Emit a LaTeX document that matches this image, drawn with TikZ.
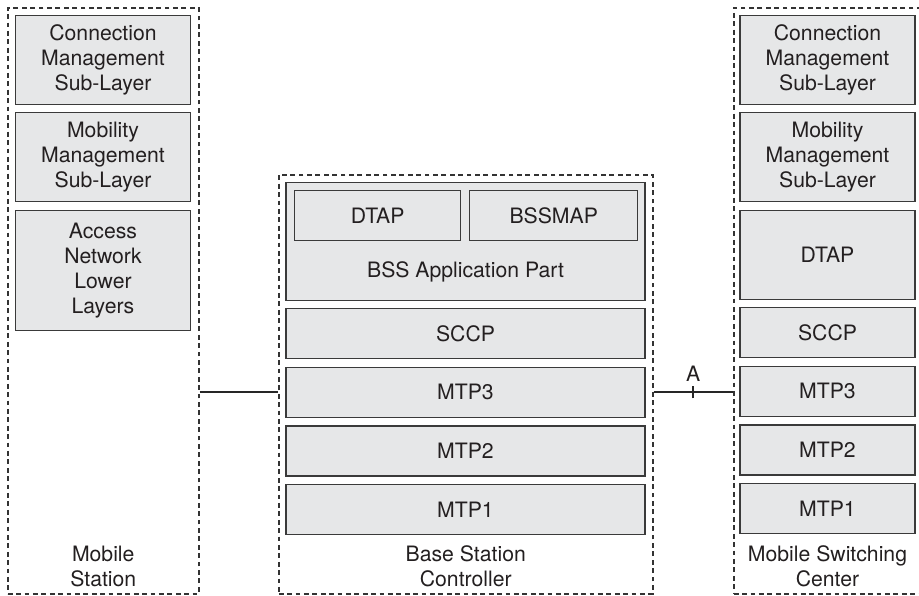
\documentclass[tikz,border=0pt]{standalone}
\usepackage{fontspec}
\setmainfont{TeX Gyre Heros}
\usetikzlibrary{positioning, calc}
\definecolor{layerfill}{HTML}{E6E7E8}
\definecolor{layerline}{HTML}{3A3A3A}
\definecolor{txtcol}{HTML}{231F20}

\begin{document}
\begin{tikzpicture}[
            x=0.5pt, y=-0.5pt,
            font=\fontsize{10.6}{12.5}\selectfont, text=txtcol,
            % Styles of the layers
            layer/.style={rectangle, draw=layerline, fill=layerfill, line width=0.7pt, minimum width=87.5pt, minimum height=25pt, align=center, inner sep=0pt},
            tall/.style={layer, minimum height=44.5pt},
            group/.style={rectangle, draw=black!80, dash pattern=on 2.4pt off 1.8pt, line width=0.75pt, anchor=north west, inner sep=0pt},
            caption/.style={align=center, inner sep=0pt},
            link/.style={line width=1pt, draw=black!85}
        ]
            \useasboundingbox (0,0) rectangle (919,595);

            % Dashed groups
            \node[group, minimum width=95.5pt, minimum height=293pt] (ms) at (7,7) {};
            \node[group, minimum width=187pt, minimum height=209.5pt] (bsc) at (278,174) {};
            \node[group, minimum width=100pt, minimum height=293pt] (msc) at (733,7) {};

            % Mobile Station
            \node[tall, anchor=north] (mscm) at (103,15) {Connection\\Management\\Sub-Layer};
            \node[tall, below=3.3pt of mscm] (msmm) {Mobility\\Management\\Sub-Layer};
            \node[layer, minimum height=60pt, below=3.8pt of msmm] (msan) {Access\\Network\\Lower\\Layers};

            % Base Station Controller
            \node[layer, minimum width=179.5pt, minimum height=59pt, anchor=north] (bssap) at (465.5,182) {};
            \node[layer, minimum width=83pt, anchor=north west] (dtap) at (294,190) {DTAP};
            \node[layer, minimum width=84pt, right=3.8pt of dtap] (bssmap) {BSSMAP};
            \node[caption] (bssaplabel) at ($(dtap.south -| bssap)!0.5!(bssap.south)$) {BSS Application Part};
            \node[layer, minimum width=179.5pt, below=3.3pt of bssap] (sccp) {SCCP};
            \node[layer, minimum width=179.5pt, below=3.6pt of sccp] (mtp3) {MTP3};
            \node[layer, minimum width=179.5pt, below=3.6pt of mtp3] (mtp2) {MTP2};
            \node[layer, minimum width=179.5pt, below=3.6pt of mtp2] (mtp1) {MTP1};

            % Mobile Switching Center
            \node[tall, anchor=north] (msccm) at (827.5,15) {Connection\\Management\\Sub-Layer};
            \node[tall, below=3.3pt of msccm] (mscmm) {Mobility\\Management\\Sub-Layer};
            \node[layer, minimum height=44.5pt, below=3.8pt of mscmm] (mscdtap) {DTAP};
            \node[layer, below=3.3pt of mscdtap] (mscsccp) {SCCP};
            \node[layer, below=3.6pt of mscsccp] (mscmtp3) {MTP3};
            \node[layer, below=3.6pt of mscmtp3] (mscmtp2) {MTP2};
            \node[layer, below=3.6pt of mscmtp2] (mscmtp1) {MTP1};

            % Captions
            \node[caption] (bsclabel) at ($(bsc.south)+(0,-28)$) {Base Station\\Controller};
            \node[caption] (mslabel) at (bsclabel -| ms) {Mobile\\Station};
            \node[caption] (msclabel) at (bsclabel -| mscmtp1) {Mobile Switching\\Center};

            % Links
            \draw[link] (ms.east |- mtp3) -- (bsc.west |- mtp3);
            \draw[link] (bsc.east |- mtp3) -- coordinate[midway] (aif) (msc.west |- mtp3);
            \draw[link] ([yshift=-3pt]aif) -- ([yshift=3pt]aif);
            \node[caption, above=5pt of aif] (alabel) {A};
        \end{tikzpicture}
\end{document}
